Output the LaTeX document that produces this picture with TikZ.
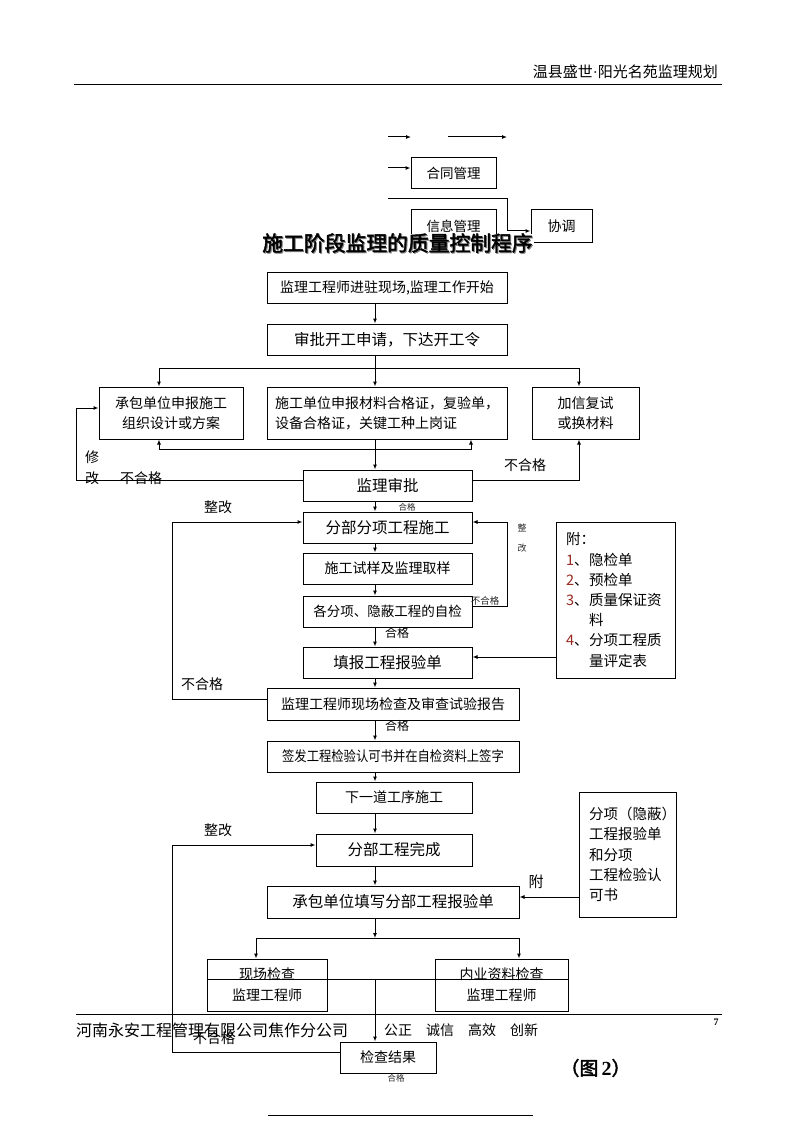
\documentclass[tikz,border=0pt]{standalone}
\usepackage{fontspec}
\usepackage{graphicx}
\setmainfont{Noto Sans CJK SC}[AutoFakeBold=2]
\newfontfamily\serifnum{Liberation Serif}
\usetikzlibrary{arrows.meta}
\definecolor{numred}{RGB}{150,40,30}
\def\fs#1#2{\fontsize{#1}{#2}\selectfont}
\def\tip{Latex[length=5pt,width=4pt]}
\def\trunkx{375}
\newcommand{\fuhao}[1]{\makebox[23pt][l]{\textcolor{numred}{#1}、}}

\tikzset{
    blk/.style={draw, line width=1pt, fill=white, inner sep=0pt, align=center, font=\fs{14}{20}},
    ln/.style={line width=1pt},
    arr/.style={line width=1pt, -{\tip}},
    lbl/.style={inner sep=0pt, font=\fs{14}{16}},
    tinylbl/.style={inner sep=0pt, font=\fs{8.5}{10}, text=black!85}
}

\begin{document}
\begin{tikzpicture}[x=1pt,y=-1pt]
\useasboundingbox (0,0) rectangle (794,1123);

% Page header
\node[lbl, anchor=east, font=\fs{15}{18}] (hdr) at (718,72) {温县盛世{\serifnum\textperiodcentered}阳光名苑监理规划};
\draw[line width=0.8pt] (74,84) -- (722,84); % header rule

% Left-over fragment on top of the page
\node[blk, minimum width=85, minimum height=31, font=\fs{13.5}{16}] (hetong) at (453.5,173.5) {合同管理};
\node[blk, minimum width=85, minimum height=32, font=\fs{13.5}{16}] (xinxi) at (453.5,226) {信息管理};
\node[blk, minimum width=61, minimum height=32] (xietiao) at (561.5,226) {协调};
\coordinate (t1) at (388,137);
\coordinate (t2) at (411,137);
\coordinate (t3) at (448,137);
\coordinate (t4) at (507,137);
\coordinate (t5) at (388,168);
\coordinate (t6) at (388,199);
\coordinate (t7) at (507,199);
\coordinate (t8) at (0,231);
\draw[arr] (t1) -- (t2);
\draw[arr] (t3) -- (t4);
\draw[arr] (t5) -- (hetong.west |- t5);
\draw[arr] (t6) -- (t7) |- (xietiao.west |- t8);

% Title (with shadow)
\node[inner sep=0pt, fill=white, text=black!50, font=\fs{20.8}{22}\bfseries] (ttlsh) at (398.5,244) {施工阶段监理的质量控制程序};
\node[inner sep=0pt, font=\fs{20.8}{22}\bfseries] (ttl) at (397.5,243) {施工阶段监理的质量控制程序};

% Boxes of the main flow
\node[blk, minimum width=240, minimum height=31] (b1) at (387,287.5) {监理工程师进驻现场,监理工作开始};
\node[blk, minimum width=240, minimum height=31, font=\fs{15.5}{18}] (b2) at (387,339.5) {审批开工申请，下达开工令};
\node[blk, minimum width=144, minimum height=52] (sheji) at (171,413) {承包单位申报施工\\组织设计或方案};
\node[blk, minimum height=52, text width=224, inner xsep=8, align=left] (cailiao) at (387,413) {施工单位申报材料合格证，复验单，\\设备合格证，关键工种上岗证};
\node[blk, minimum width=107, minimum height=52] (fushi) at (585.5,413) {加信复试\\或换材料};
\node[blk, minimum width=169, minimum height=31, font=\fs{15.5}{18}] (shenpi) at (387.5,485.5) {监理审批};
\node[blk, minimum width=169, minimum height=31, font=\fs{15.5}{18}] (fxsg) at (387.5,527.5) {分部分项工程施工};
\node[blk, minimum width=169, minimum height=31] (quyang) at (387.5,568.5) {施工试样及监理取样};
\node[blk, minimum width=169, minimum height=31, font=\fs{13.5}{16}] (zijian) at (387.5,611.5) {各分项、隐蔽工程的自检};
\node[blk, minimum width=169, minimum height=31, font=\fs{15.5}{18}] (tianbao) at (387.5,662.5) {填报工程报验单};
\node[blk, minimum width=252, minimum height=32] (jiancha) at (393,704) {监理工程师现场检查及审查试验报告};
\node[blk, minimum width=252, minimum height=31] (qianfa) at (393,756.5) {\scalebox{0.88}[1]{签发工程检验认可书并在自检资料上签字}};
\node[blk, minimum width=156, minimum height=31] (xiadao) at (394,797.5) {下一道工序施工};
\node[blk, minimum width=156, minimum height=32, font=\fs{15.5}{18}] (wancheng) at (394,850) {分部工程完成};
\node[blk, minimum width=252, minimum height=32, font=\fs{15.5}{18}] (tianxie) at (393,902) {承包单位填写分部工程报验单};
\node[blk, minimum width=120, minimum height=52, font=\fs{14}{21}] (xianchang) at (267,985) {现场检查\\监理工程师};
\node[blk, minimum width=133, minimum height=52, font=\fs{14}{21}] (neiye) at (501.5,985) {内业资料检查\\监理工程师};
\node[blk, minimum width=96, minimum height=31] (jieguo) at (388,1057.5) {检查结果};

% Attachment boxes
\node[blk, minimum width=119, minimum height=156, text width=99, inner xsep=10, align=left, font=\fs{14.5}{20.2}] (fu1) at (615.5,600)
    {附：\\\fuhao{1}隐检单\\\fuhao{2}预检单\\\fuhao{3}质量保证资\\\hspace*{23pt}料\\\fuhao{4}分项工程质\\\hspace*{23pt}量评定表};
\node[blk, minimum width=97, minimum height=125, text width=77, inner xsep=10, align=left, font=\fs{14.5}{20.3}] (fu2) at (627.5,854.5)
    {分项（隐蔽）\\工程报验单\\和分项\\工程检验认\\可书};

% Helper coordinates
\coordinate (tr) at (\trunkx,0);
\coordinate (cA) at (159,0);
\coordinate (cB) at (471,0);
\coordinate (cC) at (579,0);
\coordinate (cL) at (76,0);
\coordinate (cR) at (507,0);
\coordinate (cL2) at (172,0);
\coordinate (cX) at (256,0);
\coordinate (cY) at (519,0);
\coordinate (sp1) at (\trunkx,368);
\coordinate (sp2) at (\trunkx,938);
\coordinate (r408) at (0,408);
\coordinate (r449) at (0,449);
\coordinate (r480) at (0,480);
\coordinate (r522) at (0,522);
\coordinate (r606) at (0,606);
\coordinate (r657) at (0,657);
\coordinate (r699) at (0,699);
\coordinate (r845) at (0,845);
\coordinate (r897) at (0,897);
\coordinate (r979) at (0,979);
\coordinate (r1052) at (0,1052);

% Straight steps down the trunk
\foreach \u/\v in {b1/b2, cailiao/shenpi, shenpi/fxsg, fxsg/quyang, quyang/zijian, zijian/tianbao, tianbao/jiancha, jiancha/qianfa, qianfa/xiadao, xiadao/wancheng, wancheng/tianxie} {
    \draw[arr] (\u.south -| tr) -- (\v.north -| tr);
}

% Split under the start order
\draw[ln] (b2.south -| tr) -- (sp1);
\draw[arr] (sp1) -| (sheji.north -| cA);
\draw[arr] (sp1) -- (cailiao.north -| tr);
\draw[arr] (sp1) -| (fushi.north -| cC);
\draw[ln, {\tip}-{\tip}] (sheji.south -| cA) -- (cA |- r449) -- (cB |- r449) -- (cailiao.south -| cB); % back to both boxes

% Rejections from the approval
\draw[arr] (shenpi.west |- r480) -- (cL |- r480) |- (sheji.west |- r408);
\draw[arr] (shenpi.east |- r480) -| (fushi.south -| cC);

% Loops back to the sub-item work
\draw[arr] (zijian.east |- r606) -- (cR |- r606) |- (fxsg.east |- r522);
\draw[arr] (jiancha.west |- r699) -- (cL2 |- r699) |- (fxsg.west |- r522);
\draw[arr] (fu1.west |- r657) -- (tianbao.east |- r657);

% Lower part
\draw[arr] (fu2.west |- r897) -- (tianxie.east |- r897);
\draw[arr] (tianxie.south -| tr) -- (sp2);
\draw[arr] (sp2) -| (xianchang.north -| cX);
\draw[arr] (sp2) -| (neiye.north -| cY);
\draw[ln] (xianchang.west |- r979) -- (neiye.east |- r979); % line through both checks
\draw[arr] (tr |- r979) -- (jieguo.north -| tr);
\draw[arr] (jieguo.west |- r1052) -- (cL2 |- r1052) |- (wancheng.west |- r845);

% Labels
\node[lbl] (xiu) at (92,457) {修};
\node[lbl] (gai1) at (92,478) {改};
\node[lbl] (bhg1) at (141,478) {不合格};
\node[lbl] (bhg2) at (525,465) {不合格};
\node[tinylbl] (hg1) at (407,507) {合格};
\node[lbl] (zg1) at (218,507) {整改};
\node[tinylbl, font=\fs{9}{10}] (zg2a) at (522,528) {整};
\node[tinylbl, font=\fs{9}{10}] (zg2b) at (522,548) {改};
\node[tinylbl, font=\fs{9.5}{10}] (bhg3) at (485,601) {不合格};
\node[lbl, font=\fs{12}{14}] (hg2) at (397,633) {合格};
\node[lbl] (bhg4) at (202,684) {不合格};
\node[lbl, font=\fs{12}{14}] (hg3) at (397,726) {合格};
\node[lbl] (zg3) at (218,830) {整改};
\node[lbl, font=\fs{15}{16}] (fu) at (536,882) {附};
\node[lbl] (bhg5) at (214,1038) {不合格};
\node[tinylbl] (hg4) at (396,1078) {合格};

% Page footer
\draw[line width=0.8pt] (76,1014) -- (722,1014); % footer rule
\node[lbl, anchor=west, font=\fs{16}{18}] (gs) at (76,1030) {河南永安工程管理有限公司焦作分公司};
\node[lbl, anchor=west] (kh) at (384,1030) {公正　诚信　高效　创新};
\node[lbl, font=\serifnum\bfseries\fs{10}{12}] (pg) at (716,1022) {7};
\node[lbl, font=\bfseries\fs{19}{22}] (tu) at (595.5,1068) {（图\,{\serifnum\fs{20}{22}2}）};
\draw[line width=0.8pt] (268,1115) -- (533,1115);

\end{tikzpicture}
\end{document}
